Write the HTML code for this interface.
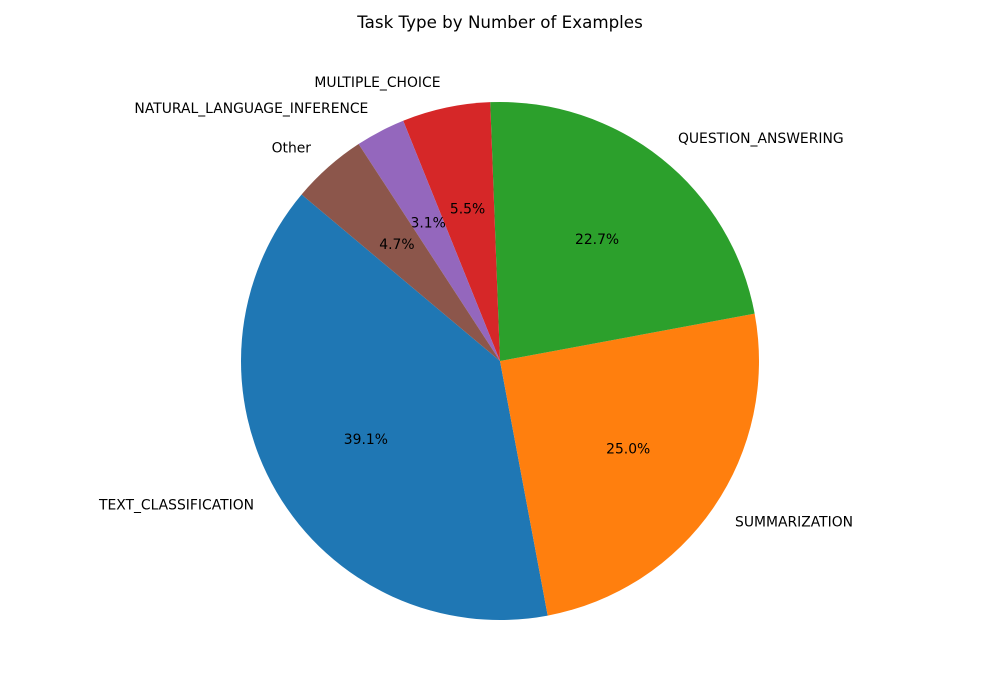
<!DOCTYPE html>
<html><head><meta charset="utf-8"><style>
body{margin:0;background:#fff;}
svg{display:block;font-family:"DejaVu Sans","Liberation Sans",sans-serif;}
</style></head><body>
<svg id="chart" width="1000" height="700">
<rect width="1000" height="700" fill="#fff"/>
<text x="500" y="28" text-anchor="middle" font-size="16.7" fill="#000">Task Type by Number of Examples</text>
<g id="slices"></g>
</svg>
<script>
const categories = ["TEXT_CLASSIFICATION","SUMMARIZATION","QUESTION_ANSWERING","MULTIPLE_CHOICE","NATURAL_LANGUAGE_INFERENCE","Other"];
const values = [39.1, 25.0, 22.7, 5.5, 3.1, 4.7];
const colors = ["#1f77b4","#ff7f0e","#2ca02c","#d62728","#9467bd","#8c564b"];
const cx=500, cy=361, r=259, start=140;
const ns="http://www.w3.org/2000/svg";
const g=document.getElementById('slices');
const total=values.reduce((a,b)=>a+b,0);
let a0=start;
function pt(deg,rad){const t=deg*Math.PI/180;return [cx+rad*Math.cos(t), cy-rad*Math.sin(t)];}
values.forEach((v,i)=>{
  const sweep=v/total*360, a1=a0+sweep;
  const p0=pt(a0,r), p1=pt(a1,r);
  const path=document.createElementNS(ns,'path');
  path.setAttribute('d',`M${cx},${cy} L${p0[0]},${p0[1]} A${r},${r} 0 ${sweep>180?1:0} 0 ${p1[0]},${p1[1]} Z`);
  path.setAttribute('fill',colors[i]);
  
  
  g.appendChild(path);
  const mid=(a0+a1)/2;
  const lp=pt(mid,r*1.1);
  const lt=document.createElementNS(ns,'text');
  lt.setAttribute('x',lp[0]);lt.setAttribute('y',lp[1]+4.5);
  lt.setAttribute('font-size','13.9');
  lt.setAttribute('text-anchor',Math.cos(mid*Math.PI/180)>=0?'start':'end');
  lt.textContent=categories[i];
  
  
  g.appendChild(lt);
  const pp=pt(mid,r*0.6);
  const pt2=document.createElementNS(ns,'text');
  pt2.setAttribute('x',pp[0]);pt2.setAttribute('y',pp[1]+4.5);
  pt2.setAttribute('font-size','13.9');pt2.setAttribute('text-anchor','middle');
  pt2.textContent=v.toFixed(1)+'%';
  
  
  g.appendChild(pt2);
  a0=a1;
});
</script>
</body></html>
